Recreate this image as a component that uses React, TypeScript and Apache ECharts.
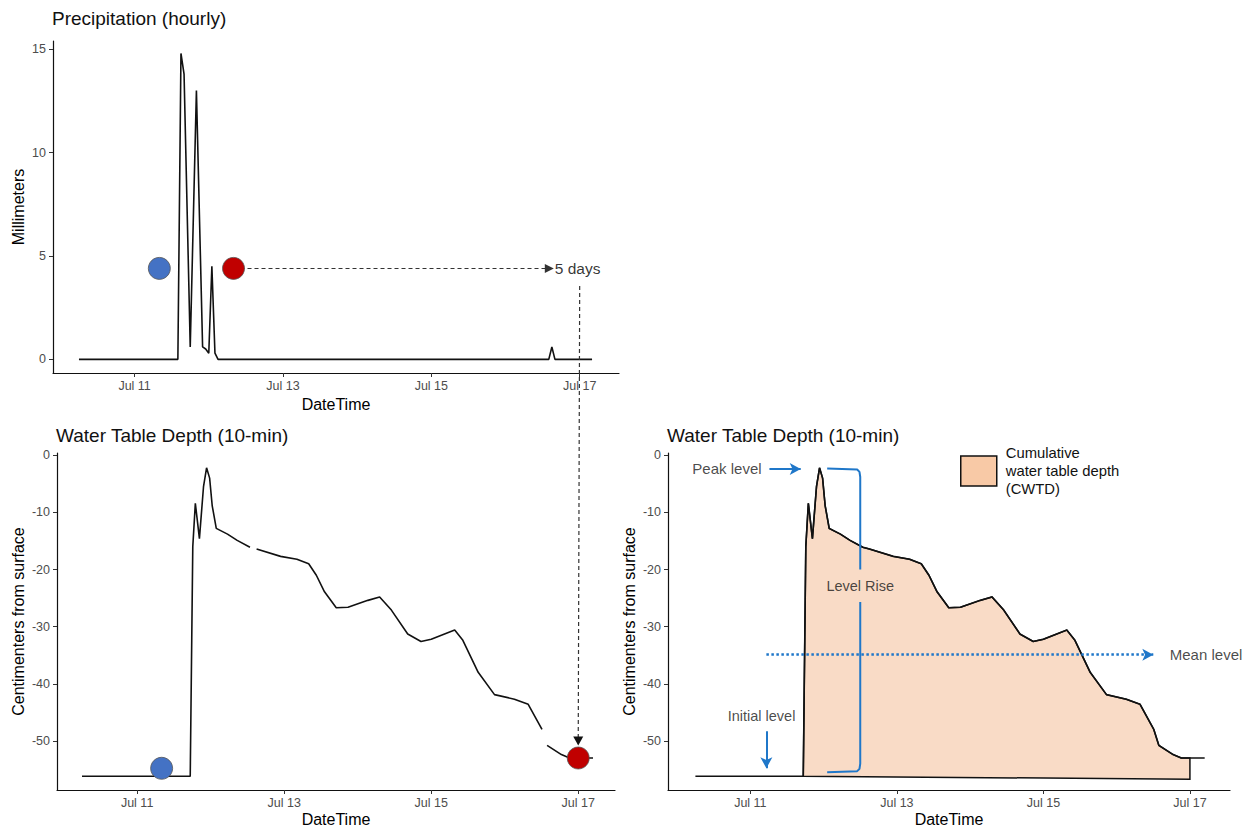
import React, { useEffect, useRef } from "react";
import * as echarts from "echarts";

// ---------- data ----------
const precipTime = [
  "07-10 06:00", "07-11 14:00", "07-11 15:00", "07-11 16:00", "07-11 18:00",
  "07-11 20:00", "07-11 22:00", "07-11 23:00", "07-12 00:00", "07-12 01:00",
  "07-12 02:00", "07-12 03:00", "07-16 14:00", "07-16 15:00", "07-16 16:00",
  "07-17 04:00",
];
const precipMm = [0, 0, 14.8, 13.8, 0.6, 13.0, 0.6, 0.5, 0.3, 4.5, 0.3, 0, 0, 0.6, 0, 0];

const wtTime = [
  "07-10 06:00", "07-11 17:20", "07-11 17:50", "07-11 18:10", "07-11 19:00",
  "07-11 20:20", "07-11 21:40", "07-11 22:40", "07-11 23:40", "07-12 00:30",
  "07-12 01:50", "07-12 05:30", "07-12 08:40", "07-12 12:50", "07-12 15:00",
  "07-12 22:50", "07-13 04:10", "07-13 08:00", "07-13 10:30", "07-13 13:10",
  "07-13 17:00", "07-13 20:50", "07-14 03:20", "07-14 07:10", "07-14 11:00",
  "07-14 16:20", "07-14 20:40", "07-15 00:00", "07-15 07:40", "07-15 10:20",
  "07-15 15:20", "07-15 20:40", "07-16 03:10", "07-16 07:40", "07-16 12:10",
  "07-16 13:50", "07-16 18:30", "07-16 21:10", "07-17 04:50",
];
const wtDepth = [
  -56.2, -56.2, -32, -16, -8.4,
  -14.6, -5.5, -2.2, -4.0, -8.8,
  -12.8, -13.8, -14.9, -16.1, -16.4,
  -17.7, -18.2, -19.0, -21.0, -23.9,
  -26.7, -26.6, -25.4, -24.8, -27.1,
  -31.3, -32.6, -32.2, -30.6, -32.4,
  -38.0, -41.9, -42.7, -43.6, -48.0,
  -50.8, -52.4, -53.0, -53.0,
];
// the logger has no readings right after these times (left panel only)
const sensorGapAfter = ["07-12 12:50", "07-16 12:10"];

const dateTicks = [11, 13, 15, 17];
const precipTicks = [0, 5, 10, 15];
const depthTicks = [0, -10, -20, -30, -40, -50];

// markers
const precipMarkerTime = ["07-11 08:00", "07-12 08:00"];
const precipMarkerMm = [4.4, 4.4];
const wtMarkerTime = ["07-11 08:00", "07-17 00:00"];
const wtMarkerDepth = [-54.8, -53.0];
const markerColors = ["#4472C4", "#C00000"];
const fiveDayTipTime = "07-16 14:10";
const fiveDayLinkTop = 3.55;
const fiveDayLinkBottom = -50.8;

// CWTD panel
const cwtdName = "Cumulative\nwater table depth\n(CWTD)";
const cwtdStart = "07-11 17:20";
const cwtdEnd = "07-17 00:00";
const cwtdBaseDepth = [-56.2, -56.7];
const peakArrowTime = ["07-11 06:15", "07-11 16:30"];
const peakLevel = -2.4;
const initialArrowTime = "07-11 05:15";
const initialArrowDepth = [-48.3, -54.8];
const meanLineTime = ["07-11 05:15", "07-16 12:00"];
const meanLevel = -34.9;
const bracketTime = [
  "07-12 01:10", "07-12 11:00", "07-12 11:45", "07-12 12:00", "07-12 12:00", null,
  "07-12 12:00", "07-12 12:00", "07-12 11:45", "07-12 11:00", "07-12 01:10",
];
const bracketDepth = [-2.3, -2.5, -2.9, -3.8, -20.0, null, -25.7, -54.0, -54.9, -55.3, -55.5];
const annotationText = ["Peak level", "Initial level", "Mean level", "Level Rise"];
const annotationTime = ["07-11 04:30", "07-11 03:40", "07-16 16:35", "07-12 12:00"];
const annotationDepth = [-2.4, -45.6, -34.9, -22.9];

// ---------- helpers ----------
const ts = (s: string) => {
  const [md, hm] = s.split(" ");
  const day = Number(md.split("-")[1]);
  const [h, m] = hm.split(":").map(Number);
  return day + (h + m / 60) / 24;
};

const FONT = "'Liberation Sans', Arial, Helvetica, sans-serif";
const BLUE = "#1F77C9";

function xAxis(gridIndex: number, min: number, max: number) {
  return {
    type: "value",
    gridIndex,
    min,
    max,
    name: "DateTime",
    nameLocation: "middle",
    nameGap: gridIndex === 0 ? 23 : 21,
    nameTextStyle: { fontFamily: FONT, fontSize: 16, color: "#000" },
    axisLine: { show: true, onZero: false, lineStyle: { color: "#111", width: 1.2 } },
    axisTick: { show: true, length: 4, customValues: dateTicks, lineStyle: { color: "#333" } },
    axisLabel: {
      show: true,
      customValues: dateTicks,
      margin: 6,
      formatter: (v: number) => "Jul " + Math.round(v),
      fontFamily: FONT,
      fontSize: 12.5,
      color: "#4D4D4D",
    },
    splitLine: { show: false },
  };
}

function yAxis(gridIndex: number, min: number, max: number, ticks: number[], name: string, gap: number) {
  return {
    type: "value",
    gridIndex,
    min,
    max,
    name,
    nameLocation: "middle",
    nameGap: gap,
    nameTextStyle: { fontFamily: FONT, fontSize: 16, color: "#000" },
    axisLine: { show: true, onZero: false, lineStyle: { color: "#111", width: 1.2 } },
    axisTick: { show: true, length: 4, customValues: ticks, lineStyle: { color: "#333" } },
    axisLabel: {
      show: true,
      customValues: ticks,
      margin: 7,
      fontFamily: FONT,
      fontSize: 12.5,
      color: "#4D4D4D",
    },
    splitLine: { show: false },
  };
}

export default function App() {
  const ref = useRef<HTMLDivElement>(null);

  useEffect(() => {
    if (!ref.current) return;
    const chart = echarts.init(ref.current, undefined, { renderer: "svg" });

    const precipData = precipTime.map((t, i) => [ts(t), precipMm[i]]);
    const wtAll = wtTime.map((t, i) => [ts(t), wtDepth[i]]);
    const gapSet = new Set(sensorGapAfter);
    const wtLeft: any[] = [];
    wtTime.forEach((t, i) => {
      wtLeft.push([ts(t), wtDepth[i]]);
      if (gapSet.has(t)) wtLeft.push([ts(t) + 0.001, null]);
    });

    const s0 = ts(cwtdStart);
    const s1 = ts(cwtdEnd);
    const top = wtAll.filter((p) => p[0] >= s0 && p[0] <= s1);
    const after = wtAll.find((p) => p[0] > s1)!;
    const before = top[top.length - 1];
    const endVal = before[1] + ((after[1] - before[1]) * (s1 - before[0])) / (after[0] - before[0]);
    const cwtdPolygon = [...top, [s1, endVal], [s1, cwtdBaseDepth[1]], [s0, cwtdBaseDepth[0]]];

    const bracketData = bracketTime.map((t, i) =>
      t === null ? [null, null] : [ts(t), bracketDepth[i]]
    );

    const textLabel = (pos: string) => ({
      show: true,
      position: pos,
      distance: 2,
      fontFamily: FONT,
      fontSize: 15,
      color: "#1a1a1a",
    });

    const option: any = {
      animation: false,
      backgroundColor: "#fff",
      title: [
        { text: "Precipitation (hourly)", left: 52, top: 9 },
        { text: "Water Table Depth (10-min)", left: 56, top: 426 },
        { text: "Water Table Depth (10-min)", left: 667, top: 426 },
      ].map((t) => ({
        ...t,
        padding: 0,
        textStyle: { fontFamily: FONT, fontSize: 19, fontWeight: "normal", color: "#111" },
      })),
      legend: {
        left: 960,
        top: 444,
        padding: 0,
        itemWidth: 36,
        itemHeight: 30,
        selectedMode: false,
        data: [
          {
            name: cwtdName,
            icon: "rect",
            itemStyle: { color: "#F8C9A6", borderColor: "#111", borderWidth: 1.5 },
          },
        ],
        textStyle: { fontFamily: FONT, fontSize: 14.8, lineHeight: 18, color: "#111", padding: [0, 0, 0, 4] },
      },
      grid: [
        { left: 53, top: 41, width: 566, height: 332 },
        { left: 57, top: 453, width: 558, height: 337 },
        { left: 668, top: 453, width: 562, height: 337 },
      ],
      xAxis: [xAxis(0, 9.9, 17.53), xAxis(1, 9.91, 17.5), xAxis(2, 9.876, 17.547)],
      yAxis: [
        yAxis(0, -0.66, 15.4, precipTicks, "Millimeters", 27),
        yAxis(1, -58.6, 0.4, depthTicks, "Centimenters from surface", 31),
        yAxis(2, -58.6, 0.4, depthTicks, "Centimenters from surface", 31),
      ],
      series: [
        {
          type: "line",
          name: "precip",
          xAxisIndex: 0,
          yAxisIndex: 0,
          data: precipData,
          symbol: "none",
          lineStyle: { color: "#111", width: 1.6 },
          markLine: {
            silent: true,
            symbol: ["none", "triangle"],
            symbolSize: [9, 9],
            label: { show: false },
            lineStyle: { color: "#333", width: 1.2, type: [4, 3] },
            data: [[{ coord: [ts(precipMarkerTime[1]), precipMarkerMm[1]] }, { coord: [ts(fiveDayTipTime), precipMarkerMm[1]] }]],
          },
        },
        {
          type: "scatter",
          xAxisIndex: 0,
          yAxisIndex: 0,
          z: 5,
          symbolSize: 22,
          data: precipMarkerTime.map((t, i) => ({
            value: [ts(t), precipMarkerMm[i]],
            itemStyle: { color: markerColors[i], borderColor: "#555", borderWidth: 0.8, opacity: 1 },
          })),
        },
        {
          type: "scatter",
          xAxisIndex: 0,
          yAxisIndex: 0,
          symbolSize: 1,
          itemStyle: { color: "rgba(0,0,0,0)" },
          silent: true,
          data: [
            {
              value: [ts(fiveDayTipTime), precipMarkerMm[1]],
              label: { show: true, position: "right", distance: 5, formatter: "5 days", fontFamily: FONT, fontSize: 15.5, color: "#000" },
            },
          ],
        },
        {
          type: "line",
          name: "wtLeft",
          xAxisIndex: 1,
          yAxisIndex: 1,
          data: wtLeft,
          connectNulls: false,
          symbol: "none",
          lineStyle: { color: "#111", width: 1.6 },
        },
        {
          type: "scatter",
          xAxisIndex: 1,
          yAxisIndex: 1,
          z: 5,
          symbolSize: 22,
          data: wtMarkerTime.map((t, i) => ({
            value: [ts(t), wtMarkerDepth[i]],
            itemStyle: { color: markerColors[i], borderColor: "#555", borderWidth: 0.8, opacity: 1 },
          })),
        },
        {
          type: "custom",
          name: cwtdName,
          xAxisIndex: 2,
          yAxisIndex: 2,
          z: 1,
          itemStyle: { color: "#F8C9A6", borderColor: "#111", borderWidth: 1.5 },
          data: [[s0, cwtdBaseDepth[0]]],
          encode: { x: 0, y: 1 },
          renderItem: (_p: any, api: any) => ({
            type: "polygon",
            shape: { points: cwtdPolygon.map((p) => api.coord(p)) },
            style: { fill: "#F9DBC6", stroke: "#111", lineWidth: 1.5 },
          }),
        },
        {
          type: "line",
          name: "wtRight",
          xAxisIndex: 2,
          yAxisIndex: 2,
          data: wtAll,
          symbol: "none",
          z: 3,
          lineStyle: { color: "#111", width: 1.6 },
          markLine: {
            silent: true,
            symbol: ["none", "arrow"],
            symbolSize: [9, 11],
            label: { show: false },
            data: [
              [
                { coord: [ts(peakArrowTime[0]), peakLevel], lineStyle: { color: BLUE, width: 2, type: "solid" } },
                { coord: [ts(peakArrowTime[1]), peakLevel] },
              ],
              [
                { coord: [ts(initialArrowTime), initialArrowDepth[0]], lineStyle: { color: BLUE, width: 2, type: "solid" } },
                { coord: [ts(initialArrowTime), initialArrowDepth[1]] },
              ],
              [
                { coord: [ts(meanLineTime[0]), meanLevel], lineStyle: { color: BLUE, width: 2.5, type: [2.5, 2.5] } },
                { coord: [ts(meanLineTime[1]), meanLevel] },
              ],
            ],
          },
        },
        {
          type: "line",
          name: "bracket",
          xAxisIndex: 2,
          yAxisIndex: 2,
          data: bracketData,
          connectNulls: false,
          symbol: "none",
          z: 4,
          lineStyle: { color: BLUE, width: 2 },
        },
        {
          type: "scatter",
          xAxisIndex: 2,
          yAxisIndex: 2,
          symbolSize: 1,
          itemStyle: { color: "rgba(0,0,0,0)" },
          silent: true,
          z: 6,
          data: annotationText.map((txt, i) => ({
            value: [ts(annotationTime[i]), annotationDepth[i]],
            label: {
              ...textLabel(i === 0 ? "left" : i === 2 ? "right" : "inside"),
              formatter: txt,
              fontSize: i === 0 || i === 2 ? 15 : 14.5,
            },
          })),
        },
      ],
    };

    chart.setOption(option);

    // dashed link between the two left panels (5 days after event end)
    const pTop = chart.convertToPixel({ gridIndex: 0 } as any, [dateTicks[3], fiveDayLinkTop]) as number[];
    const pBot = chart.convertToPixel({ gridIndex: 1 } as any, [dateTicks[3], fiveDayLinkBottom]) as number[];
    chart.setOption({
      graphic: [
        {
          type: "line",
          shape: { x1: pTop[0], y1: pTop[1], x2: pBot[0], y2: pBot[1] - 8 },
          style: { stroke: "#333", lineWidth: 1.2, lineDash: [4, 3] },
          z: 10,
        },
        {
          type: "polygon",
          shape: { points: [[pBot[0] - 5, pBot[1] - 9], [pBot[0] + 5, pBot[1] - 9], [pBot[0], pBot[1]]] },
          style: { fill: "#111" },
          z: 10,
        },
      ],
    });

    return () => chart.dispose();
  }, []);

  return (
    <div
      ref={ref}
      style={{ position: "fixed", left: 0, top: 0, width: 1251, height: 829, background: "#fff" }}
    />
  );
}
